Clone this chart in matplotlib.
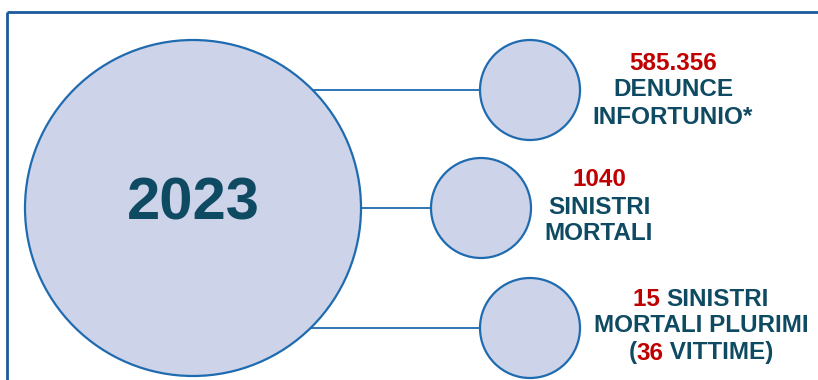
import matplotlib.pyplot as plt
from matplotlib.patches import Circle

# data
year = "2023"
values = ["585.356", "1040", "15", "36"]
# each label is a list of lines, each line a list of (text, is_number) pieces
labels = [
    [[(values[0], True)], [("DENUNCE", False)], [("INFORTUNIO*", False)]],
    [[(values[1], True)], [("SINISTRI", False)], [("MORTALI", False)]],
    [[(values[2] + " ", True), ("SINISTRI", False)],
     [("MORTALI PLURIMI", False)],
     [("(", False), (values[3], True), (" VITTIME)", False)]],
]

RED = "#c00000"
DARK = "#0f4a63"
FILL = "#cdd3e8"
EDGE = "#1f6bb0"
FRAME = "#1c5a9c"

plt.rcParams['font.family'] = ['Liberation Sans', 'DejaVu Sans']

fig = plt.figure(figsize=(8.18, 3.8), dpi=100)
ax = fig.add_axes([0, 0, 1, 1])
ax.set_xlim(0, 818)
ax.set_ylim(380, 0)
ax.axis('off')

# frame (left and top only)
ax.plot([7, 7], [380, 12], color=FRAME, lw=2, solid_capstyle='butt')
ax.plot([7, 818], [12, 12], color=FRAME, lw=2, solid_capstyle='butt')

big = (193, 208, 168)
small = [(530, 90), (481, 208), (530, 328)]
r_small = 50
text_pos = [(673, 90), (599, 207), (701, 326)]

# connectors
for cx, cy in small:
    dy = cy - big[1]
    x0 = big[0] + (big[2] ** 2 - dy ** 2) ** 0.5
    ax.plot([x0, cx - r_small], [cy, cy], color=EDGE, lw=1.3, zorder=1)

ax.add_patch(Circle(big[:2], big[2], facecolor=FILL, edgecolor=EDGE, lw=1.6, zorder=2))
for cx, cy in small:
    ax.add_patch(Circle((cx, cy), r_small, facecolor=FILL, edgecolor=EDGE, lw=1.6, zorder=2))

ax.text(big[0], big[1] - 4, year, ha='center', va='center', fontsize=43,
        fontweight='bold', color=DARK, zorder=3)

renderer = fig.canvas.get_renderer()
fs = 17.5
line_h = 27

for (tx, ty), lines in zip(text_pos, labels):
    n = len(lines)
    for i, pieces in enumerate(lines):
        y = ty + (i - (n - 1) / 2) * line_h
        # measure pieces to center the whole line
        widths = []
        for s, _ in pieces:
            t = ax.text(0, 0, s, fontsize=fs, fontweight='bold')
            widths.append(t.get_window_extent(renderer).width)
            t.remove()
        x = tx - sum(widths) / 2
        for (s, is_num), w in zip(pieces, widths):
            ax.text(x, y, s, fontsize=fs, fontweight='bold', ha='left', va='center',
                    color=RED if is_num else DARK, zorder=3)
            x += w

fig.savefig("out.png", dpi=100)
